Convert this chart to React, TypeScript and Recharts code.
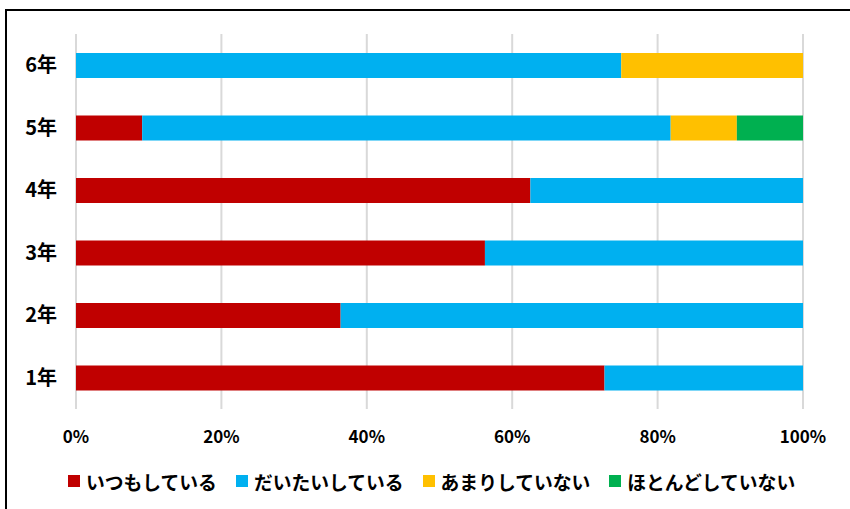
import { BarChart, Bar, XAxis, YAxis, CartesianGrid, Legend } from "recharts";

const GRADES = ["6年", "5年", "4年", "3年", "2年", "1年"];
const ALWAYS = [0, 9.1, 62.5, 56.25, 36.4, 72.7];
const MOSTLY = [75, 72.7, 37.5, 43.75, 63.6, 27.3];
const RARELY = [25, 9.1, 0, 0, 0, 0];
const NEVER = [0, 9.1, 0, 0, 0, 0];
const X_TICKS = [0, 20, 40, 60, 80, 100];

const SERIES = [
  { key: "always", name: "いつもしている", color: "#C00000" },
  { key: "mostly", name: "だいたいしている", color: "#00B0F0" },
  { key: "rarely", name: "あまりしていない", color: "#FFC000" },
  { key: "never", name: "ほとんどしていない", color: "#00B050" },
];

const data = GRADES.map((g, i) => ({
  grade: g,
  always: ALWAYS[i],
  mostly: MOSTLY[i],
  rarely: RARELY[i],
  never: NEVER[i],
}));

const FONT = "'Noto Sans CJK JP', 'Noto Sans', sans-serif";

function LegendBox() {
  return (
    <div style={{ display: "flex", flexWrap: "nowrap", alignItems: "center", height: 30, fontFamily: FONT, fontWeight: 700, fontSize: 18.8, color: "#000", paddingLeft: 68, marginTop: -3, whiteSpace: "nowrap" }}>
      {SERIES.map((s) => (
        <div key={s.key} style={{ display: "flex", alignItems: "center", marginRight: 19, flexShrink: 0 }}>
          <div style={{ width: 12, height: 12, background: s.color, marginRight: 6, flexShrink: 0 }} />
          <span style={{ whiteSpace: "nowrap" }}>{s.name}</span>
        </div>
      ))}
    </div>
  );
}

export default function App() {
  return (
    <div style={{ position: "absolute", left: 0, top: 0, width: 850, height: 509, overflow: "hidden", background: "#fff" }}>
      <div style={{ position: "absolute", left: 5, top: 9, width: 900, height: 600, border: "2px solid #000", boxSizing: "border-box" }} />
      <div style={{ position: "absolute", left: 0, top: 0 }}>
        <BarChart width={850} height={509} data={data} layout="vertical" margin={{ top: 34, right: 47, bottom: 13, left: 0 }} barSize={25}>
          <CartesianGrid horizontal={false} stroke="#d9d9d9" strokeWidth={2} />
          <XAxis
            type="number"
            domain={[0, 100]}
            ticks={X_TICKS}
            tickFormatter={(v) => `${v}%`}
            axisLine={false}
            tickLine={false}
            tickMargin={16}
            height={60}
            tick={{ fill: "#000", fontSize: 17, fontWeight: 700, fontFamily: FONT }}
          />
          <YAxis
            type="category"
            dataKey="grade"
            width={76}
            axisLine={false}
            tickLine={false}
            tickMargin={13}
            tick={{ fill: "#000", fontSize: 20, fontWeight: 700, fontFamily: FONT }}
          />
          <Legend verticalAlign="bottom" content={() => <LegendBox />} />
          {SERIES.map((s) => (
            <Bar key={s.key} dataKey={s.key} name={s.name} stackId="a" fill={s.color} isAnimationActive={false} />
          ))}
        </BarChart>
      </div>
    </div>
  );
}
